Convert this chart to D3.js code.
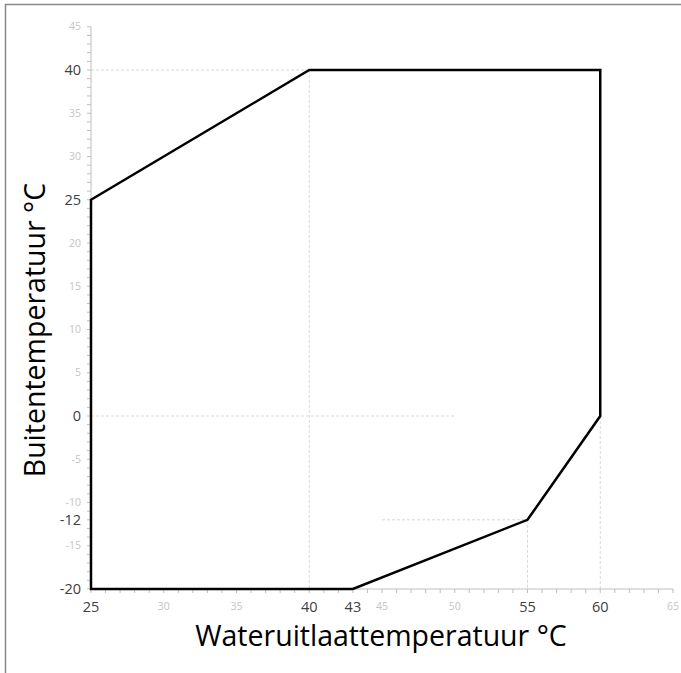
<!DOCTYPE html>
<html><head><meta charset="utf-8">
<script src="https://cdn.jsdelivr.net/npm/d3@7"></script>
<style>body{margin:0;background:#fff}svg{display:block}</style>
</head><body>
<script>
const envelopeX = [25, 40, 60, 60, 55, 43, 25];
const envelopeY = [25, 40, 40, 0, -12, -20, -20];
const xMajor = [25, 40, 43, 55, 60];
const xMinorLabels = [30, 35, 45, 50, 65];
const yMajor = [40, 25, 0, -12, -20];
const yMinorLabels = [45, 35, 30, 20, 15, 10, 5, -5, -10, -15];
const guides = [
  {x1: 25, y1: 40, x2: 40, y2: 40},
  {x1: 40, y1: 40, x2: 40, y2: -20},
  {x1: 25, y1: 0, x2: 50, y2: 0},
  {x1: 45, y1: -12, x2: 55, y2: -12},
  {x1: 55, y1: -12, x2: 55, y2: -20},
  {x1: 60, y1: 0, x2: 60, y2: -20}
];
const W = 681, H = 673;
const svg = d3.select("body").append("svg").attr("width", W).attr("height", H);
svg.append("path").attr("d", `M5.5,${H} V4.5 H${W}`).attr("fill","none").attr("stroke","#888").attr("stroke-width",1.5);

const x = d3.scaleLinear().domain([25, 65]).range([91, 673]);
const y = d3.scaleLinear().domain([-20, 45]).range([589, 26.75]);
const font = "'Open Sans', 'Noto Sans', sans-serif";

// guides
svg.append("g").selectAll("line").data(guides).join("line")
  .attr("x1", d => x(d.x1)).attr("x2", d => x(d.x2))
  .attr("y1", d => y(d.y1)).attr("y2", d => y(d.y2))
  .attr("stroke", "#d9d9d9").attr("stroke-width", 1).attr("stroke-dasharray", "3,2");

// axes
const axisCol = "#bfbfbf";
svg.append("line").attr("x1", x(25)).attr("x2", x(25)).attr("y1", y(45)).attr("y2", y(-20)).attr("stroke", axisCol);
svg.append("line").attr("x1", x(25)).attr("x2", x(65)).attr("y1", y(-20)).attr("y2", y(-20)).attr("stroke", axisCol);
svg.append("g").selectAll("line").data(d3.range(-20, 46, 1)).join("line")
  .attr("x1", x(25) - 4).attr("x2", x(25)).attr("y1", d => y(d)).attr("y2", d => y(d)).attr("stroke", axisCol);
svg.append("g").selectAll("line").data(d3.range(25, 66, 1)).join("line")
  .attr("x1", d => x(d)).attr("x2", d => x(d)).attr("y1", y(-20)).attr("y2", y(-20) + 4).attr("stroke", axisCol);

// tick labels
svg.append("g").selectAll("text").data(yMinorLabels).join("text")
  .attr("x", 81).attr("y", d => y(d)).attr("dy", "0.35em").attr("text-anchor", "end")
  .attr("font-family", font).attr("font-size", 10.5).attr("fill", "#c4c4c4").text(d => d);
svg.append("g").selectAll("text").data(yMajor).join("text")
  .attr("x", 81).attr("y", d => y(d)).attr("dy", "0.35em").attr("text-anchor", "end")
  .attr("font-family", font).attr("font-size", 14.5).attr("fill", "#404040").text(d => d);
svg.append("g").selectAll("text").data(xMinorLabels).join("text")
  .attr("x", d => x(d)).attr("y", 610).attr("text-anchor", "middle")
  .attr("font-family", font).attr("font-size", 10.5).attr("fill", "#c4c4c4").text(d => d);
svg.append("g").selectAll("text").data(xMajor).join("text")
  .attr("x", d => x(d)).attr("y", 612).attr("text-anchor", "middle")
  .attr("font-family", font).attr("font-size", 14.5).attr("fill", "#404040").text(d => d);

// envelope
const pts = envelopeX.map((v, i) => [x(v), y(envelopeY[i])]);
svg.append("path").attr("d", d3.line()(pts) + "Z")
  .attr("fill", "none").attr("stroke", "#000").attr("stroke-width", 2.5).attr("stroke-linejoin", "miter");

// titles
svg.append("text").attr("x", 381).attr("y", 646).attr("text-anchor", "middle")
  .attr("font-family", font).attr("font-size", 28.5).attr("fill", "#000").text("Wateruitlaattemperatuur °C");
svg.append("text").attr("transform", "translate(45,330) rotate(-90)").attr("text-anchor", "middle")
  .attr("font-family", font).attr("font-size", 28.5).attr("fill", "#000").text("Buitentemperatuur °C");
</script>
</body></html>
